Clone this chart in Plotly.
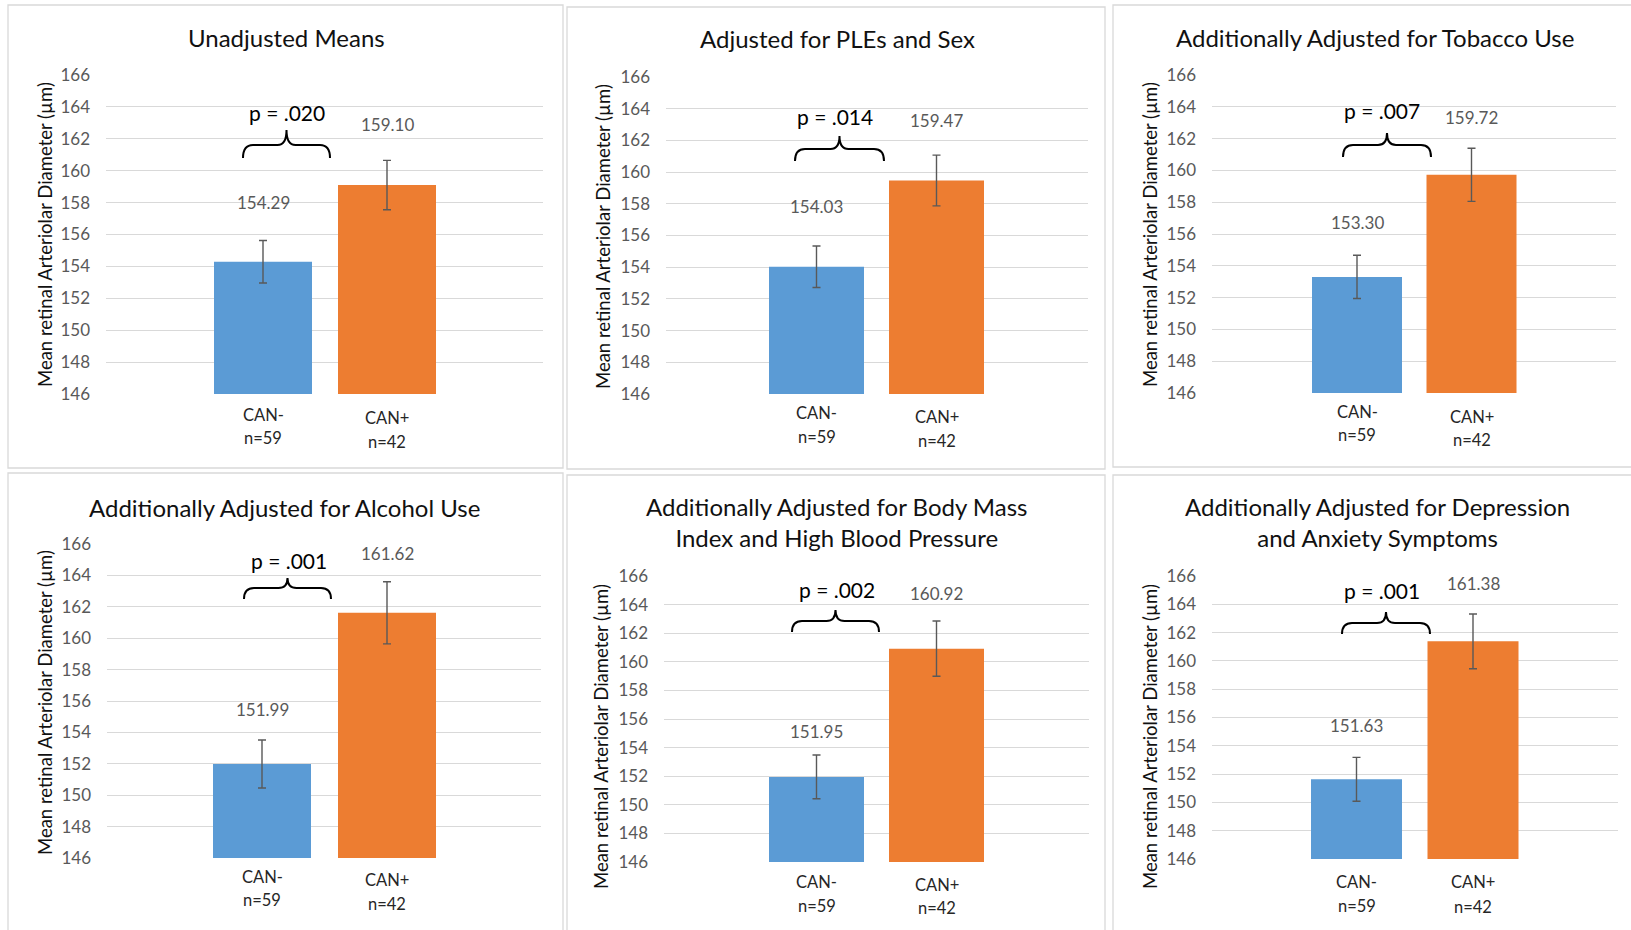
import plotly.graph_objects as go

# ---------------- data ----------------
categories = ["CAN-", "CAN+"]
sample_sizes = ["n=59", "n=42"]
titles = [
    "Unadjusted Means",
    "Adjusted for PLEs and Sex",
    "Additionally Adjusted for Tobacco Use",
    "Additionally Adjusted for Alcohol Use",
    "Additionally Adjusted for Body Mass<br>Index and High Blood Pressure",
    "Additionally Adjusted for Depression<br>and Anxiety Symptoms",
]
means_neg = [154.29, 154.03, 153.30, 151.99, 151.95, 151.63]
means_pos = [159.10, 159.47, 159.72, 161.62, 160.92, 161.38]
err_neg = [1.33, 1.31, 1.36, 1.53, 1.53, 1.55]
err_pos = [1.55, 1.60, 1.67, 1.98, 1.93, 1.93]
p_values = [".020", ".014", ".007", ".001", ".002", ".001"]
y_ticks = [146, 148, 150, 152, 154, 156, 158, 160, 162, 164, 166]
y_axis_title = "Mean retinal Arteriolar Diameter (µm)"

# ---------------- layout (pixel geometry) ----------------
W, H = 1631, 930
FONT = "Lato"
BLUE, ORANGE = "#5B9BD5", "#ED7D31"

panels = [
    dict(gl=106, gr=543, c=(263, 387), bw=98, ytop=75, ybot=394, title=(286, 37),
         ylab=(45, 235), p=(287, 113), brace=(243, 330, 130, 145, 158),
         cat=((415, 438), (418, 442)), shift=(38, 36), box=(8, 5, 563, 468)),
    dict(gl=666, gr=1088, c=(816.5, 936.5), bw=95, ytop=77, ybot=394, title=(837, 38),
         ylab=(603, 237), p=(835, 117), brace=(795, 884, 136, 149, 161),
         cat=((413, 437), (417, 441)), shift=(39, 35), box=(567, 7, 1105, 469)),
    dict(gl=1212, gr=1616, c=(1357, 1471.5), bw=90, ytop=75, ybot=393, title=(1375, 37),
         ylab=(1150, 235), p=(1382, 110), brace=(1343, 1431, 133, 145, 157),
         cat=((412, 435), (417, 440)), shift=(33, 31), box=(1113, 5, 1645, 467)),
    dict(gl=107, gr=541, c=(262, 387), bw=98, ytop=544, ybot=858, title=(284, 507),
         ylab=(45, 703), p=(289, 560), brace=(244, 331, 578, 588, 599),
         cat=((877, 900), (880, 904)), shift=(30, 28), box=(8, 473, 563, 940)),
    dict(gl=664, gr=1089, c=(816.5, 936.5), bw=95, ytop=576, ybot=862, title=(837, 522),
         ylab=(601, 737), p=(837, 589), brace=(792, 879, 610, 621, 632),
         cat=((882, 906), (885, 908)), shift=(24, 28), box=(567, 475, 1105, 940)),
    dict(gl=1212, gr=1618, c=(1356.5, 1473), bw=91, ytop=576, ybot=859, title=(1377, 522),
         ylab=(1150, 737), p=(1382, 590), brace=(1342, 1430, 612, 623, 634),
         cat=((882, 906), (882, 907)), shift=(32, 31), box=(1113, 475, 1645, 940)),
]


def px(x):
    return x / W


def py(y):
    return 1 - y / H


fig = go.Figure()
annotations = []
shapes = []

for i, pn in enumerate(panels):
    k = "" if i == 0 else str(i + 1)
    xa, ya = "x" + k, "y" + k
    c0, c1 = pn["c"]
    unit = c1 - c0
    width = pn["bw"] / unit

    fig.add_trace(go.Bar(
        x=[categories[0]], y=[means_neg[i]], width=[width], marker=dict(color=BLUE, line=dict(width=0)),
        error_y=dict(type="data", array=[err_neg[i]], color="#595959", thickness=1.4, width=4),
        xaxis=xa, yaxis=ya, showlegend=False, hoverinfo="y"))
    fig.add_trace(go.Bar(
        x=[categories[1]], y=[means_pos[i]], width=[width], marker=dict(color=ORANGE, line=dict(width=0)),
        error_y=dict(type="data", array=[err_pos[i]], color="#595959", thickness=1.4, width=4),
        xaxis=xa, yaxis=ya, showlegend=False, hoverinfo="y"))

    fig.layout["xaxis" + k] = dict(
        domain=[px(pn["gl"]), px(pn["gr"])], anchor=ya, type="category",
        categoryorder="array", categoryarray=categories,
        range=[(pn["gl"] - c0) / unit, (pn["gr"] - c0) / unit], automargin=False,
        showticklabels=False, showgrid=False, zeroline=False, showline=False, fixedrange=True)
    fig.layout["yaxis" + k] = dict(
        domain=[py(pn["ybot"]), py(pn["ytop"])], anchor=xa, range=[146, 166],
        tickvals=y_ticks, showgrid=True, gridcolor="#D9D9D9", gridwidth=1.3, automargin=False,
        zeroline=False, showline=False, ticks="", ticklabelstandoff=15,
        tickfont=dict(family=FONT, size=17, color="#595959"), fixedrange=True)

    # panel border
    x0, y0, x1, y1 = pn["box"]
    shapes.append(dict(type="rect", xref="paper", yref="paper", x0=px(x0), x1=px(x1),
                       y0=py(y1), y1=py(y0), line=dict(color="#D9D9D9", width=1.3),
                       fillcolor="rgba(0,0,0,0)", layer="below"))

    # title
    annotations.append(dict(xref="paper", yref="paper", x=px(pn["title"][0]), y=py(pn["title"][1]),
                            text=titles[i], showarrow=False, xanchor="center", yanchor="middle",
                            font=dict(family=FONT, size=24, color="#111111")))
    # y axis title
    annotations.append(dict(xref="paper", yref="paper", x=px(pn["ylab"][0]), y=py(pn["ylab"][1]),
                            text=y_axis_title, showarrow=False, textangle=-90,
                            xanchor="center", yanchor="middle",
                            font=dict(family=FONT, size=18.5, color="#111111")))
    # data labels
    for j, (m, e) in enumerate([(means_neg[i], err_neg[i]), (means_pos[i], err_pos[i])]):
        annotations.append(dict(xref=xa, yref=ya, x=categories[j], y=m + e, yshift=pn["shift"][j],
                                text=f"{m:.2f}", showarrow=False, xanchor="center", yanchor="middle",
                                font=dict(family=FONT, size=17, color="#595959")))
        # category labels
        for line_txt, ly in zip([categories[j], sample_sizes[j]], pn["cat"][j]):
            annotations.append(dict(xref=xa, yref="paper", x=categories[j], y=py(ly),
                                    text=line_txt, showarrow=False, xanchor="center", yanchor="middle",
                                    font=dict(family=FONT, size=16.5, color="#262626")))
    # p value
    annotations.append(dict(xref="paper", yref="paper", x=px(pn["p"][0]), y=py(pn["p"][1]),
                            text="p = " + p_values[i], showarrow=False, xanchor="center", yanchor="middle",
                            font=dict(family=FONT, size=21, color="#000000")))
    # brace
    bl, br, bt, bh, be = pn["brace"]
    bm = (bl + br) / 2
    pts = [
        ("M", bl, be), ("Q", bl, bh), ("", bl + 10, bh), ("L", bm - 9, bh),
        ("Q", bm, bh), ("", bm, bt), ("Q", bm, bh), ("", bm + 9, bh),
        ("L", br - 10, bh), ("Q", br, bh), ("", br, be),
    ]
    path = " ".join(f"{c} {px(a):.5f},{py(b):.5f}".strip() for c, a, b in pts)
    shapes.append(dict(type="path", xref="paper", yref="paper", path=path,
                       line=dict(color="#000000", width=2)))

fig.update_layout(
    width=W, height=H, autosize=False,
    margin=dict(l=0, r=0, t=0, b=0, pad=0, autoexpand=False),
    paper_bgcolor="white", plot_bgcolor="white",
    barmode="overlay", annotations=annotations, shapes=shapes,
    font=dict(family=FONT), showlegend=False,
)

fig.write_html(
    "out.html",
    config={"displayModeBar": False},
    post_script=(
        "var h=document.documentElement,b=document.body;"
        "h.style.margin='0';h.style.padding='0';h.style.overflow='hidden';h.style.height='930px';"
        "b.style.margin='0';b.style.padding='0';b.style.overflow='hidden';b.style.height='930px';"
        "var d=document.getElementById('{plot_id}');"
        "d.style.position='fixed';d.style.left='0px';d.style.top='0px';"
        "if(d.parentElement){d.parentElement.style.margin='0';d.parentElement.style.height='0px';}"
    ),
)
